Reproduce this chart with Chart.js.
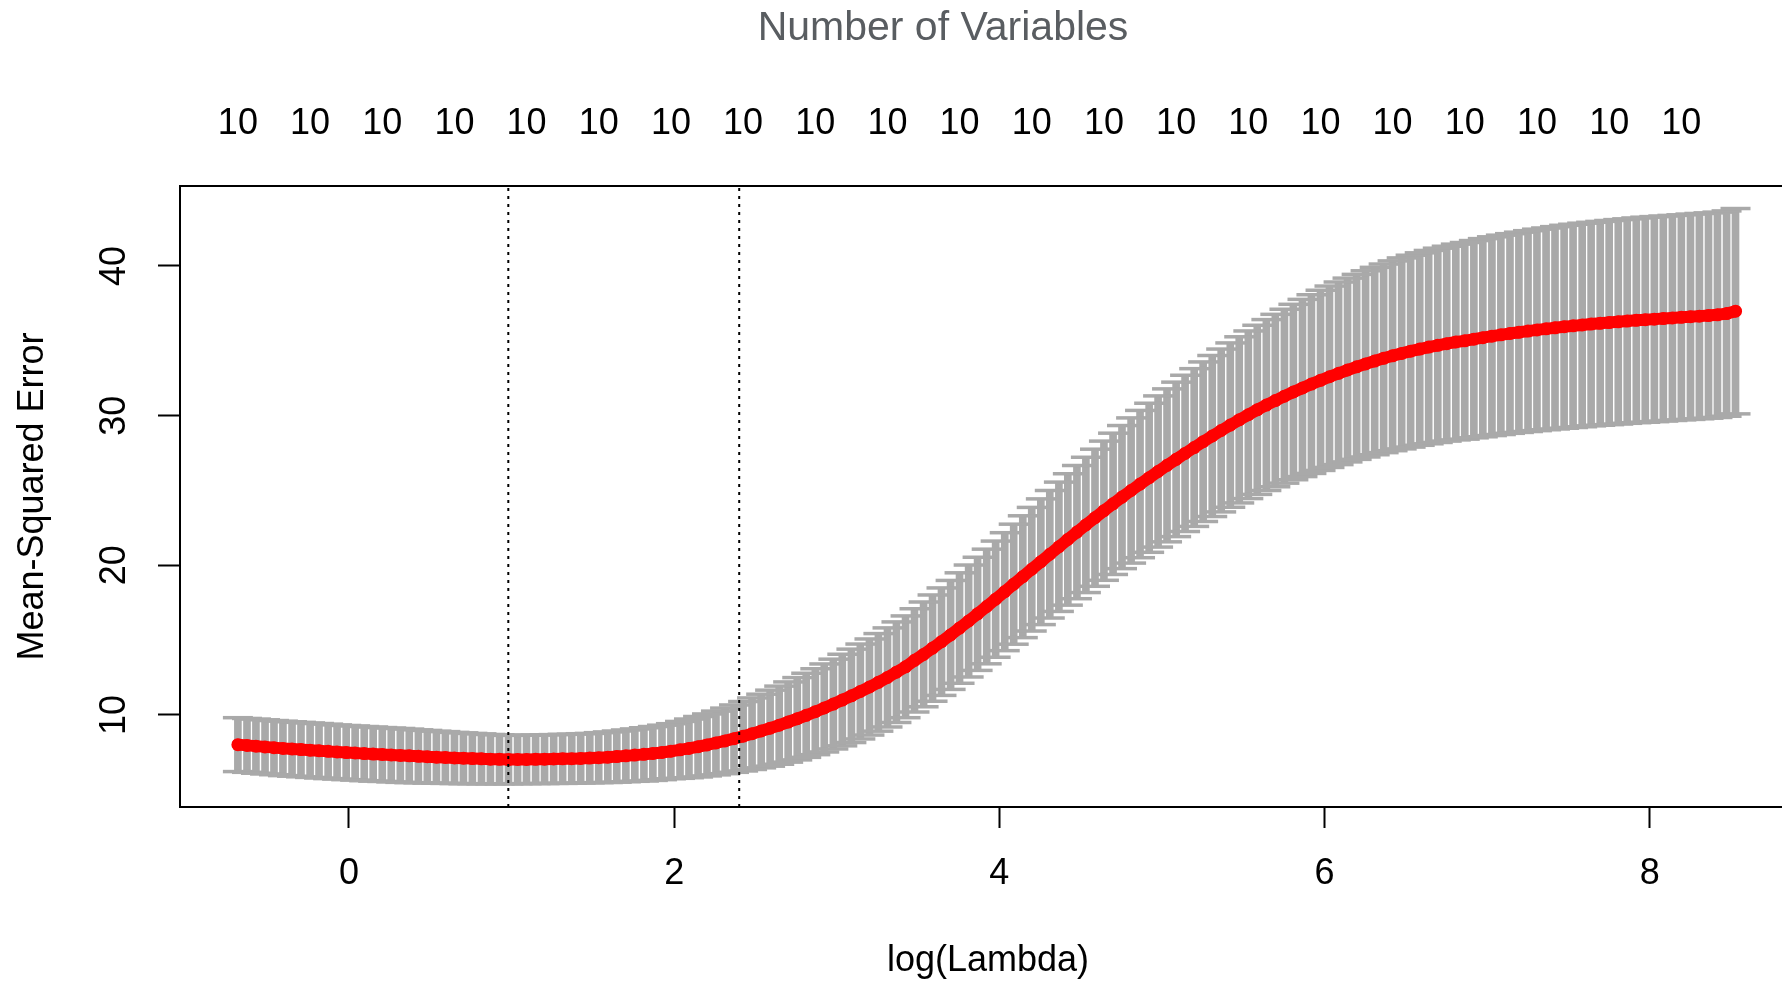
<!DOCTYPE html>
<html>
<head>
<meta charset="utf-8">
<script src="https://cdn.jsdelivr.net/npm/chart.js@4.4.1/dist/chart.umd.min.js"></script>
<style>
  html, body { margin: 0; padding: 0; background: #ffffff; overflow: hidden; }
  #wrap { position: relative; width: 1796px; height: 983px; overflow: hidden; }
</style>
</head>
<body>
<div id="wrap"><canvas id="c" width="1796" height="983"></canvas></div>
<script>
// ---- data ----
const logLambda = [
  -0.683,-0.627,-0.572,-0.516,-0.461,-0.406,-0.350,-0.295,-0.239,-0.184,
  -0.128,-0.073,-0.017,0.038,0.094,0.149,0.205,0.260,0.316,0.371,
  0.427,0.482,0.538,0.593,0.649,0.704,0.759,0.815,0.870,0.926,
  0.981,1.037,1.092,1.148,1.203,1.259,1.314,1.370,1.425,1.481,
  1.536,1.592,1.647,1.703,1.758,1.814,1.869,1.925,1.980,2.036,
  2.091,2.147,2.202,2.257,2.313,2.368,2.424,2.479,2.535,2.590,
  2.646,2.701,2.757,2.812,2.868,2.923,2.979,3.034,3.090,3.145,
  3.201,3.256,3.312,3.367,3.423,3.478,3.534,3.589,3.644,3.700,
  3.755,3.811,3.866,3.922,3.977,4.033,4.088,4.144,4.199,4.255,
  4.310,4.366,4.421,4.477,4.532,4.588,4.643,4.699,4.754,4.810,
  4.865,4.921,4.976,5.031,5.087,5.142,5.198,5.253,5.309,5.364,
  5.420,5.475,5.531,5.586,5.642,5.697,5.753,5.808,5.864,5.919,
  5.975,6.030,6.086,6.141,6.197,6.252,6.308,6.363,6.418,6.474,
  6.529,6.585,6.640,6.696,6.751,6.807,6.862,6.918,6.973,7.029,
  7.084,7.140,7.195,7.251,7.306,7.362,7.417,7.473,7.528,7.584,
  7.639,7.695,7.750,7.806,7.861,7.917,7.972,8.028,8.083,8.139,
  8.194,8.250,8.305,8.361,8.416,8.472,8.527
];
const cvm = [
  8.02,7.97,7.92,7.87,7.82,7.77,7.73,7.69,7.65,7.61,
  7.57,7.53,7.49,7.46,7.42,7.39,7.36,7.33,7.30,7.27,
  7.24,7.21,7.18,7.16,7.13,7.11,7.09,7.07,7.05,7.04,
  7.02,7.03,7.03,7.04,7.05,7.06,7.07,7.08,7.10,7.12,
  7.15,7.18,7.22,7.27,7.32,7.37,7.43,7.50,7.58,7.67,
  7.77,7.88,8.00,8.13,8.27,8.42,8.58,8.75,8.93,9.12,
  9.32,9.53,9.75,9.98,10.22,10.47,10.73,11.00,11.28,11.57,
  11.87,12.18,12.51,12.86,13.22,13.65,14.05,14.47,14.90,15.35,
  15.81,16.28,16.76,17.25,17.74,18.24,18.74,19.24,19.74,20.24,
  20.74,21.24,21.73,22.22,22.70,23.18,23.65,24.11,24.56,25.00,
  25.43,25.85,26.27,26.68,27.08,27.48,27.87,28.26,28.64,29.01,
  29.37,29.72,30.06,30.39,30.71,31.01,31.30,31.58,31.85,32.11,
  32.36,32.60,32.83,33.05,33.26,33.46,33.65,33.83,34.00,34.16,
  34.31,34.45,34.58,34.70,34.81,34.92,35.00,35.11,35.21,35.31,
  35.40,35.49,35.57,35.65,35.73,35.80,35.87,35.94,36.00,36.06,
  36.12,36.17,36.22,36.27,36.32,36.37,36.41,36.45,36.49,36.53,
  36.57,36.61,36.65,36.69,36.74,36.82,36.98
];
const cvsd = [
  1.80,1.80,1.81,1.81,1.81,1.82,1.82,1.82,1.82,1.82,
  1.82,1.81,1.81,1.81,1.81,1.81,1.80,1.80,1.80,1.79,
  1.77,1.76,1.74,1.73,1.71,1.70,1.68,1.67,1.65,1.64,
  1.62,1.62,1.62,1.62,1.63,1.63,1.64,1.64,1.65,1.65,
  1.67,1.69,1.71,1.73,1.75,1.78,1.80,1.82,1.84,1.90,
  1.96,2.02,2.07,2.13,2.19,2.25,2.32,2.39,2.46,2.54,
  2.61,2.68,2.75,2.81,2.87,2.94,3.00,3.06,3.12,3.17,
  3.21,3.26,3.31,3.36,3.40,3.45,3.50,3.55,3.59,3.64,
  3.69,3.74,3.78,3.83,3.88,3.94,4.01,4.07,4.13,4.20,
  4.26,4.32,4.39,4.45,4.52,4.58,4.65,4.72,4.78,4.85,
  4.92,4.98,5.05,5.11,5.16,5.22,5.27,5.33,5.38,5.44,
  5.49,5.55,5.60,5.65,5.71,5.76,5.81,5.86,5.92,5.97,
  6.02,6.06,6.10,6.14,6.18,6.22,6.26,6.30,6.34,6.38,
  6.41,6.43,6.46,6.49,6.51,6.54,6.57,6.59,6.62,6.64,
  6.66,6.67,6.69,6.71,6.73,6.74,6.76,6.78,6.79,6.80,
  6.80,6.81,6.82,6.83,6.83,6.84,6.85,6.85,6.85,6.85,
  6.85,6.86,6.86,6.86,6.86,6.86,6.86
];
const nzero = [
  10,10,10,10,10,10,10,10,10,10, 10,10,10,10,10,10,10,10,10,10,
  10,10,10,10,10,10,10,10,10,10, 10,10,10,10,10,10,10,10,10,10,
  10,10,10,10,10,10,10,10,10,10, 10,10,10,10,10,10,10,10,10,10,
  10,10,10,10,10,10,10,10,10,10, 10,10,10,10,10,10,10,10,10,10,
  10,10,10,10,10,10,10,10,10,10, 10,10,10,10,10,10,10,10,10,10,
  10,10,10,10,10,10,10,10,10,10, 10,10,10,10,10,10,10,10,10,10,
  10,10,10,10,10,10,10,10,10,10, 10,10,10,10,10,10,10,10,10,10,
  10,10,10,10,10,10,10,10,10,10, 10,10,10,10,10,10,10,10,10,10,
  10,10,10,10,10,10,10
];
const xTickValues = [0, 2, 4, 6, 8];
const yTickValues = [10, 20, 30, 40];
const logLambdaMin = 0.98;
const logLambda1se = 2.40;
const topLabelEvery = 8;
const xLimits = [-1.039, 8.899];
const yLimits = [3.853, 45.345];
const chartTitle = 'Number of Variables';
const xTitle = 'log(Lambda)';
const yTitle = 'Mean-Squared Error';

// ---- styling ----
const FONT = '"Liberation Sans", Arial, Helvetica, sans-serif';
const GREY = '#A9A9A9';
Chart.defaults.font.family = FONT;
Chart.defaults.color = '#000000';

const topIdx = logLambda.map((_, i) => i).filter(i => i % topLabelEvery === 0);
const topTickVals = topIdx.map(i => logLambda[i]);
const topTickText = topIdx.map(i => String(nzero[i]));

const bars = logLambda.map((x, i) => ({ x: x, y: [cvm[i] - cvsd[i], cvm[i] + cvsd[i]] }));
const capsUp = logLambda.map((x, i) => ({ x: x, y: cvm[i] + cvsd[i] }));
const capsLo = logLambda.map((x, i) => ({ x: x, y: cvm[i] - cvsd[i] }));
const pts = logLambda.map((x, i) => ({ x: x, y: cvm[i] }));
const vline = v => [{ x: v, y: yLimits[0] }, { x: v, y: yLimits[1] }];

const titlePlugin = {
  id: 'topTitle',
  afterDraw(chart) {
    const ctx = chart.ctx;
    ctx.save();
    ctx.font = '41px ' + FONT;
    ctx.fillStyle = '#595d61';
    ctx.textAlign = 'center';
    ctx.textBaseline = 'alphabetic';
    ctx.fillText(chartTitle, 943, 40);
    ctx.restore();
  }
};

const tickFont = { family: FONT, size: 36, lineHeight: 1.2 };

new Chart(document.getElementById('c'), {
  type: 'bar',
  data: {
    datasets: [
      { type: 'bar', data: bars, backgroundColor: GREY, borderWidth: 0, barThickness: 7, order: 5 },
      { type: 'line', data: capsUp, showLine: false, pointStyle: 'line', pointRadius: 15,
        pointBorderWidth: 3.5, pointBorderColor: GREY, borderColor: GREY, order: 4 },
      { type: 'line', data: capsLo, showLine: false, pointStyle: 'line', pointRadius: 15,
        pointBorderWidth: 3.5, pointBorderColor: GREY, borderColor: GREY, order: 4 },
      { type: 'line', data: pts, showLine: true, borderWidth: 12, borderColor: '#FF0000',
        borderCapStyle: 'round', borderJoinStyle: 'round', tension: 0,
        pointStyle: 'circle', pointRadius: 6.5, pointBorderWidth: 0, pointBackgroundColor: '#FF0000', order: 2 },
      { type: 'line', data: vline(logLambdaMin), borderColor: '#000000', borderWidth: 2,
        borderDash: [3, 5], pointRadius: 0, order: 1 },
      { type: 'line', data: vline(logLambda1se), borderColor: '#000000', borderWidth: 2,
        borderDash: [3, 5], pointRadius: 0, order: 1 }
    ]
  },
  options: {
    responsive: false,
    devicePixelRatio: 1,
    animation: false,
    layout: { padding: 0, autoPadding: false },
    plugins: { legend: { display: false }, tooltip: { enabled: false }, title: { display: false } },
    scales: {
      x: {
        type: 'linear', position: 'bottom', min: xLimits[0], max: xLimits[1], offset: false,
        afterBuildTicks: s => { s.ticks = xTickValues.map(v => ({ value: v })); },
        afterFit: s => { s.height = 176; },
        ticks: { font: tickFont, color: '#000', padding: 24, autoSkip: false, maxRotation: 0, minRotation: 0,
                 callback: v => String(v) },
        grid: { display: true, offset: false, drawOnChartArea: false, drawTicks: true, tickLength: 21, tickWidth: 2,
                tickColor: '#000', color: '#000' },
        border: { display: true, color: '#000', width: 2 },
        title: { display: true, text: xTitle, color: '#000', font: tickFont, padding: { top: 0, bottom: 0 } }
      },
      x2: {
        type: 'linear', position: 'top', min: xLimits[0], max: xLimits[1], offset: false,
        afterBuildTicks: s => { s.ticks = topTickVals.map(v => ({ value: v })); },
        afterFit: s => { s.height = 186; },
        ticks: { font: tickFont, color: '#000', padding: 40, autoSkip: false, maxRotation: 0, minRotation: 0,
                 callback: (v, i) => topTickText[i] },
        grid: { display: false, offset: false, drawTicks: false, drawOnChartArea: false },
        border: { display: true, color: '#000', width: 2 }
      },
      y: {
        type: 'linear', position: 'left', min: yLimits[0], max: yLimits[1], beginAtZero: false,
        afterBuildTicks: s => { s.ticks = yTickValues.map(v => ({ value: v })); },
        afterFit: s => { s.width = 180; },
        ticks: { font: tickFont, color: '#000', padding: 23, minRotation: 90, maxRotation: 90,
                 crossAlign: 'center', autoSkip: false, callback: v => String(v) },
        grid: { display: true, offset: false, drawOnChartArea: false, drawTicks: true, tickLength: 22, tickWidth: 2,
                tickColor: '#000', color: '#000' },
        border: { display: true, color: '#000', width: 2 },
        title: { display: true, text: yTitle, color: '#000', font: tickFont, padding: { top: 11, bottom: 0 } }
      }
    }
  },
  plugins: [titlePlugin]
});
</script>
</body>
</html>
